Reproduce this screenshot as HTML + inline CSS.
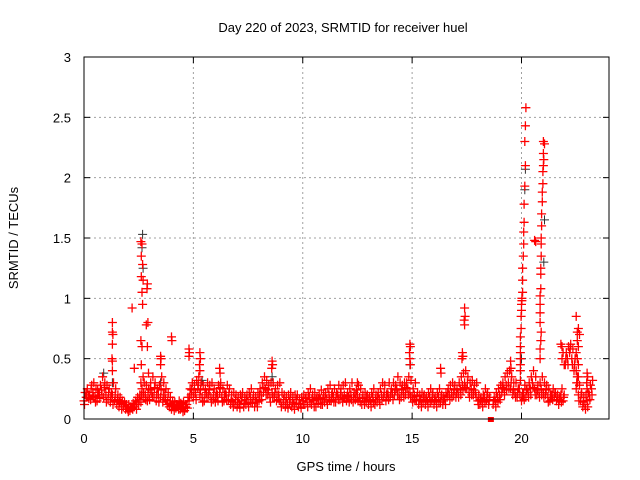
<!DOCTYPE html>
<html><head><meta charset="utf-8"><style>
body{margin:0;background:#fff}
svg{display:block;font-family:"Liberation Sans",sans-serif}
</style></head><body>
<svg id="chart" width="640" height="480">
<rect width="640" height="480" fill="#fff"/>
<text x="343" y="32" font-size="13" text-anchor="middle">Day 220 of 2023, SRMTID for receiver huel</text>
<g id="grid"></g>
<g id="pts"></g>
<rect x="84" y="57" width="525" height="362" fill="none" stroke="#000" stroke-width="1"/>
<g id="axes"></g>
<text x="346" y="471" font-size="13" text-anchor="middle">GPS time / hours</text>
<text transform="translate(18,238) rotate(-90)" font-size="13" text-anchor="middle">SRMTID / TECUs</text>
</svg>
<script>
const xTicks=[0,5,10,15,20];
const yTicks=[0,0.5,1,1.5,2,2.5,3];
const yTickLabels=["0","0.5","1","1.5","2","2.5","3"];
const step=0.1;
const baseVals=[.15,.18,.2,.16,.22,.18,.15,.2,.24,.18,
.2,.16,.14,.2,.15,.12,.1,.13,.1,.08,
.08,.07,.09,.1,.08,.12,.14,.18,.2,.15,
.16,.22,.18,.15,.2,.18,.14,.2,.12,.1,
.08,.1,.09,.11,.08,.1,.07,.12,.15,.2,
.18,.22,.25,.2,.18,.15,.22,.2,.18,.16,
.14,.2,.22,.18,.15,.2,.16,.12,.14,.12,
.1,.12,.15,.1,.12,.14,.18,.13,.1,.14,
.15,.2,.22,.25,.2,.18,.22,.18,.15,.2,
.14,.12,.1,.12,.14,.1,.12,.13,.1,.12,
.15,.12,.14,.18,.12,.15,.1,.13,.16,.12,
.14,.16,.2,.15,.18,.14,.2,.16,.18,.2,
.15,.18,.2,.14,.16,.2,.18,.12,.15,.14,
.12,.15,.18,.12,.14,.16,.2,.18,.15,.2,
.18,.22,.2,.25,.2,.18,.22,.2,.25,.22,
.18,.2,.15,.12,.15,.14,.12,.15,.18,.15,
.12,.15,.18,.14,.12,.16,.18,.2,.22,.2,
.18,.22,.25,.28,.3,.25,.22,.25,.2,.22,
.15,.12,.14,.18,.15,.12,null,.12,.15,.18,
.2,.22,.25,.28,.3,.25,.2,.22,.18,.25,
.15,.2,.18,.22,.25,.3,.25,.2,.22,.25,
.22,.2,.18,.15,.2,.18,.15,.12,.2,.15,
.45,.5,.55,.5,.4,.25,.2,.15,.1,.12,
.15,.2,.25];
const midVals=[.12,.22,.17,.25,.19,.14,.24,.17,.2,.26,
.14,.22,.18,.12,.2,.16,.14,.08,.12,.1,
.06,.1,.08,.12,.14,.16,.2,.22,.16,.2,
.24,.18,.26,.2,.14,.24,.2,.16,.15,.13,
.11,.07,.12,.08,.13,.06,.12,.09,.18,.24,
.22,.16,.28,.24,.14,.2,.18,.24,.14,.2,
.18,.15,.26,.14,.2,.16,.22,.15,.1,.16,
.14,.09,.18,.13,.16,.1,.14,.16,.14,.1,
.2,.16,.26,.2,.24,.14,.18,.22,.2,.16,
.1,.16,.14,.09,.16,.14,.08,.16,.13,.09,
.12,.17,.1,.14,.16,.1,.16,.17,.12,.16,
.18,.12,.16,.2,.14,.18,.16,.22,.14,.17,
.19,.14,.16,.18,.2,.15,.14,.17,.12,.18,
.16,.1,.14,.16,.18,.12,.16,.22,.2,.16,
.22,.16,.24,.2,.16,.24,.18,.26,.2,.18,
.14,.16,.19,.16,.1,.18,.16,.1,.14,.2,
.16,.1,.14,.18,.16,.12,.22,.16,.18,.24,
.22,.18,.2,.24,.26,.3,.18,.2,.24,.18,
.12,.16,.1,.14,.2,.16,null,.15,.1,.14,
.16,.26,.2,.24,.25,.3,.24,.18,.22,.2,
.18,.16,.24,.18,.2,.26,.2,.24,.18,.2,
.18,.24,.14,.2,.16,.22,.18,.16,.14,.18,
.5,.45,.58,.45,.45,.3,.15,.2,.14,.08,
.1,.16,.2];
const upperVals=[.22,.25,.2,.28,.3,.25,.22,.28,.35,.3,
.28,.25,.22,.3,.25,.2,.18,.15,.14,.12,
.12,.1,.13,.15,.18,.2,.25,.3,.28,.25,
.3,.35,.3,.25,.28,.35,.3,.25,.22,.18,
.15,.14,.12,.15,.12,.14,.1,.18,.25,.3,
.28,.32,.35,.3,.28,.25,.3,.28,.3,.25,
.22,.28,.3,.25,.22,.28,.25,.2,.22,.2,
.18,.2,.22,.18,.2,.22,.25,.2,.18,.22,
.25,.3,.35,.32,.28,.3,.3,.25,.28,.3,
.22,.2,.18,.2,.22,.18,.2,.2,.16,.18,
.2,.18,.22,.25,.2,.22,.18,.2,.24,.2,
.22,.25,.28,.22,.25,.22,.28,.25,.28,.3,
.22,.25,.3,.22,.24,.28,.25,.2,.22,.2,
.18,.22,.25,.2,.22,.25,.3,.28,.22,.3,
.25,.3,.28,.35,.3,.28,.3,.3,.35,.32,
.25,.3,.22,.2,.22,.2,.18,.22,.25,.22,
.18,.22,.25,.2,.18,.22,.25,.28,.3,.28,
.25,.3,.35,.38,.4,.35,.3,.32,.28,.3,
.2,.18,.2,.25,.22,.18,null,.18,.22,.25,
.28,.3,.35,.38,.4,.35,.3,.3,.25,.32,
.2,.28,.25,.3,.35,.4,.35,.28,.3,.35,
.3,.28,.25,.2,.25,.22,.2,.18,.25,.2,
.55,.6,.62,.58,.5,.35,.28,.22,.18,.2,
.22,.28,.32];
const spikeTimes=[1.3,1.3,1.32,1.3,1.28,1.3,1.3,2.2,2.3,2.6,2.65,2.62,2.68,2.62,2.7,2.65,2.68,2.6,2.65,2.62,2.7,2.6,2.9,2.88,2.92,2.85,2.9,2.95,3.5,3.52,3.5,4.0,4.02,4.8,4.82,4.8,5.3,5.32,5.28,5.3,6.2,6.22,8.6,8.62,8.58,12.5,14.9,14.92,14.88,14.9,14.92,16.3,16.32,17.4,17.42,17.38,17.4,17.3,17.32,17.28,19.5,19.52,
20.2,20.18,20.15,20.18,20.15,20.12,20.12,20.1,20.1,20.08,20.05,20.05,20.05,20.02,20.02,20.0,20.0,19.98,19.98,19.95,19.95,19.95,19.95,19.95,19.95,
20.6,20.65,21.0,21.05,21.0,21.02,21.0,20.98,20.98,20.95,20.95,20.92,20.92,20.9,20.9,20.9,20.88,20.88,20.88,20.85,20.85,20.85,20.85,20.9,20.88,20.85,20.85,
21.8,21.85,21.9,21.85,21.95,22.5,22.6,22.55,22.65,22.55,22.6,22.5,22.55,22.6,22.5,22.6,22.55,23.0,23.02,22.98,23.0];
const spikeVals=[0.8,0.72,0.7,0.62,0.5,0.48,0.4,0.92,0.42,1.47,1.45,1.35,1.28,1.18,1.15,1.05,0.95,0.65,0.6,0.45,0.35,0.3,1.12,1.08,0.8,0.78,0.6,0.38,0.52,0.5,0.45,0.68,0.65,0.58,0.55,0.52,0.55,0.5,0.45,0.4,0.42,0.38,0.48,0.45,0.42,0.3,0.62,0.6,0.55,0.5,0.45,0.42,0.38,0.92,0.85,0.82,0.78,0.55,0.52,0.5,0.48,0.42,
2.58,2.43,2.3,2.1,1.93,1.78,1.63,1.55,1.45,1.35,1.25,1.15,1.05,1.0,0.98,0.95,0.9,0.85,0.75,0.68,0.6,0.55,0.5,0.45,0.4,
1.48,1.47,2.3,2.28,2.2,2.15,2.1,2.05,1.95,1.88,1.8,1.7,1.6,1.5,1.45,1.35,1.25,1.2,1.08,1.02,0.95,0.88,0.8,0.72,0.65,0.58,0.5,
0.62,0.6,0.55,0.5,0.45,0.85,0.75,0.72,0.7,0.65,0.6,0.55,0.5,0.45,0.4,0.35,0.3,0.38,0.35,0.3,0.25];
const darkTimes=[2.68,2.65,2.7,20.18,20.15,21.05,21.02,0.9,1.3,5.4,8.6,3.5,20.0,14.9];
const darkVals=[1.53,1.42,1.25,2.07,1.9,1.65,1.3,0.38,0.3,0.32,0.35,0.3,0.5,0.45];

const X0=84,X1=609,Y0=419,Y1=57,XMAX=24,YMAX=3;
const sx=t=>X0+(X1-X0)*t/XMAX;
const sy=v=>Y0-(Y0-Y1)*v/YMAX;
const NS="http://www.w3.org/2000/svg";
const grid=document.getElementById('grid'),axes=document.getElementById('axes'),pts=document.getElementById('pts');
function mk(tag,attrs,parent){const e=document.createElementNS(NS,tag);for(const k in attrs)e.setAttribute(k,attrs[k]);parent.appendChild(e);return e;}
xTicks.forEach(t=>{
  const x=sx(t);
  if(t>0){const g=mk('line',{x1:x,x2:x,y1:Y0,y2:Y1,stroke:'#a0a0a0','stroke-dasharray':'2,3'},grid);
  
  }
  mk('line',{x1:x,x2:x,y1:Y0,y2:Y0-6,stroke:'#000'},axes);
  mk('line',{x1:x,x2:x,y1:Y1,y2:Y1+6,stroke:'#000'},axes);
  const l=mk('text',{x:x,y:443,'font-size':13,'text-anchor':'middle'},axes);l.textContent=String(t);
  
  
});
yTicks.forEach((v,i)=>{
  const y=sy(v);
  if(v>0&&v<YMAX){const g=mk('line',{x1:X0,x2:X1,y1:y,y2:y,stroke:'#a0a0a0','stroke-dasharray':'2,3'},grid);
  
  }
  mk('line',{x1:X0,x2:X0+6,y1:y,y2:y,stroke:'#000'},axes);
  mk('line',{x1:X1,x2:X1-6,y1:y,y2:y,stroke:'#000'},axes);
  const l=mk('text',{x:71,y:y+5,'font-size':13,'text-anchor':'end'},axes);l.textContent=yTickLabels[i];
  
  
});
function cross(t,v){const x=sx(t),y=sy(v);return `M${(x-4.5).toFixed(1)} ${y.toFixed(1)}h9M${x.toFixed(1)} ${(y-4.5).toFixed(1)}v9`;}
let d='';
baseVals.forEach((v,i)=>{if(v!=null)d+=cross(i*step,v);});
midVals.forEach((v,i)=>{if(v!=null)d+=cross(i*step+0.025,v);});
upperVals.forEach((v,i)=>{if(v!=null)d+=cross(i*step+0.05,v);});
spikeVals.forEach((v,i)=>{d+=cross(spikeTimes[i],v);});
let dd='';
darkVals.forEach((v,i)=>{dd+=cross(darkTimes[i],v);});
const pd=mk('path',{d:dd,stroke:'#303030','stroke-width':1,fill:'none'},pts);


const pr=mk('path',{d:d,stroke:'#ff0000','stroke-width':1.3,fill:'none'},pts);


const sq=mk('rect',{x:sx(18.6)-3,y:Y0-2,width:6,height:5,fill:'#ff0000'},pts);


</script>
</body></html>
